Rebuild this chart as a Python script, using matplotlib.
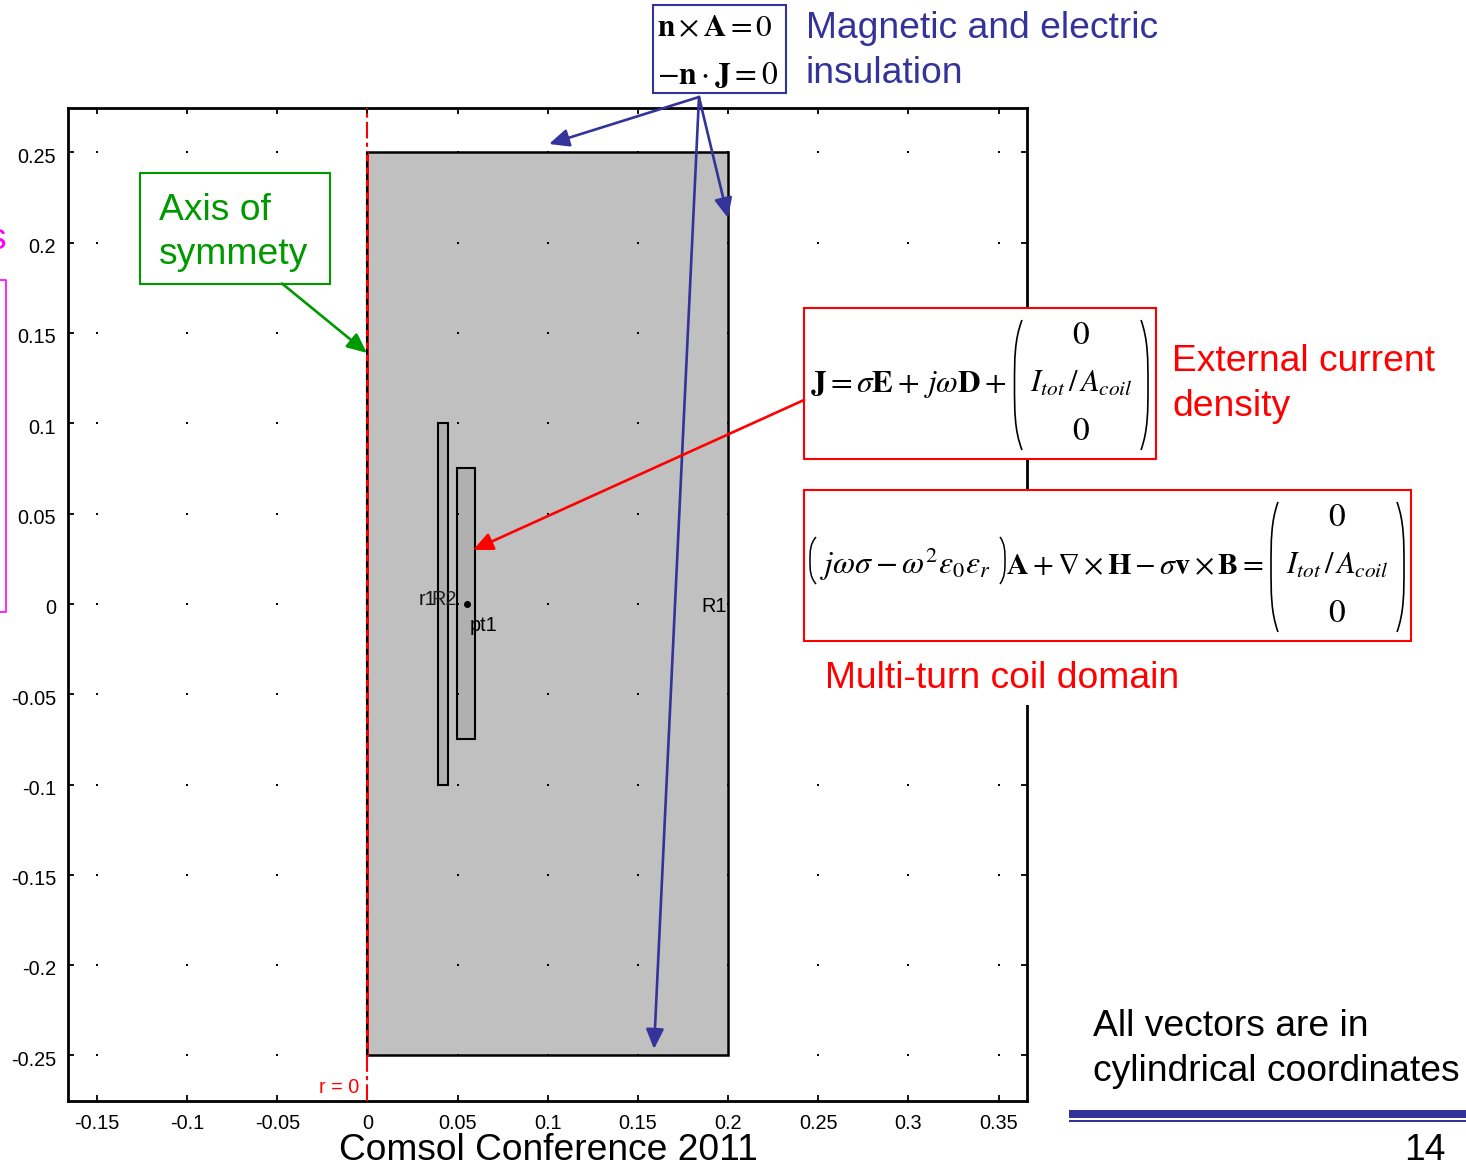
import matplotlib
matplotlib.use("Agg")
import numpy as np
import matplotlib.pyplot as plt
from matplotlib.patches import Rectangle, FancyArrowPatch, PathPatch
from matplotlib.path import Path
from matplotlib.transforms import ScaledTranslation

plt.rcParams["font.family"] = ["Liberation Sans", "DejaVu Sans"]
plt.rcParams["mathtext.fontset"] = "stix"

W, H = 1466, 1161
BLUE = "#333399"
RED = "#ff0000"
GREEN = "#009900"
MAGENTA = "#ff00ff"

x_ticks = [-0.15, -0.1, -0.05, 0, 0.05, 0.1, 0.15, 0.2, 0.25, 0.3, 0.35]
x_labels = ["-0.15", "-0.1", "-0.05", "0", "0.05", "0.1", "0.15", "0.2", "0.25", "0.3", "0.35"]
y_ticks = [-0.25, -0.2, -0.15, -0.1, -0.05, 0, 0.05, 0.1, 0.15, 0.2, 0.25]
y_labels = ["-0.25", "-0.2", "-0.15", "-0.1", "-0.05", "0", "0.05", "0.1", "0.15", "0.2", "0.25"]

# geometry objects: r_min, r_max, z_min, z_max
domain_r1 = [0, 0.2, -0.25, 0.25]
coil_r1 = [0.039, 0.0447, -0.1, 0.1]
coil_r2 = [0.0495, 0.0595, -0.075, 0.075]
point_pt1 = [0.055, 0]

fig = plt.figure(figsize=(W / 100, H / 100), dpi=100, facecolor="white")

# COMSOL plot
ax = fig.add_axes([68 / W, 1 - 1101 / H, (1027 - 68) / W, (1101 - 108) / H])
ax.set_xlim(-0.1661, 0.3658)
ax.set_ylim(-0.2752, 0.2746)
ax.set_xticks(x_ticks, x_labels)
ax.set_yticks(y_ticks, y_labels)
ax.tick_params(direction="in", top=True, right=True, length=4, width=1.3,
               labelsize=14.3, color="black")
ax.tick_params(axis="x", pad=9.5)
ax.tick_params(axis="y", pad=8.5)
for sp in ax.spines.values():
    sp.set_linewidth(2)
shift_down = ScaledTranslation(0, -2 / 72, fig.dpi_scale_trans)
for lab in ax.get_yticklabels():
    lab.set_transform(lab.get_transform() + shift_down)


def add_rect(bounds, color, lw, z):
    r0, r1, z0, z1 = bounds
    ax.add_patch(Rectangle((r0, z0), r1 - r0, z1 - z0, facecolor=color,
                           edgecolor="black", linewidth=lw, zorder=z))


# grid dots sit under the outlines of the geometry
gx, gy = np.meshgrid(x_ticks, y_ticks)
add_rect(domain_r1, "none", 1.8, 3.5)
ax.add_patch(Rectangle((domain_r1[0], domain_r1[2]), domain_r1[1], domain_r1[3] - domain_r1[2],
                       facecolor="#c0c0c0", edgecolor="none", zorder=1))
add_rect(coil_r1, "#b0b0b0", 1.5, 2)
add_rect(coil_r2, "#b0b0b0", 1.5, 2)
ax.scatter(gx.ravel(), gy.ravel(), s=3, c="black", marker="s", linewidths=0, zorder=3)
ax.plot(point_pt1[0], point_pt1[1], "o", color="black", ms=4, zorder=4)

ax.plot([0, 0], [-0.2752, 0.2746], color=RED, lw=1.5, ls=(0, (8, 2, 2, 2)), zorder=3.6)
ax.plot([0, 0], [-0.25, 0.25], color=RED, lw=2, zorder=3.6)
ax.plot([0, 0], [-0.25, 0.25], color="black", lw=1.5, ls=(0, (3, 3)), zorder=3.6)

ax.text(-0.0045, -0.2705, "r = 0", color=RED, fontsize=14.3, ha="right", va="baseline")
ax.text(0.1995, -0.0045, "R1", fontsize=14.3, ha="right", va="baseline", zorder=5)
ax.text(0.038, -0.0005, "r1", fontsize=14.3, ha="right", va="baseline", zorder=5, color="#111111")
ax.text(0.0495, -0.0005, "R2", fontsize=14.3, ha="right", va="baseline", zorder=5, color="#222222")
ax.text(0.0565, -0.0148, "pt1", fontsize=14.3, ha="left", va="baseline", zorder=5)

# slide annotations, drawn in pixel coordinates on top of the plot
ov = fig.add_axes([0, 0, 1, 1], facecolor="none")
ov.set_xlim(0, W)
ov.set_ylim(H, 0)
ov.axis("off")


def box(x0, y0, x1, y1, color, lw=1.5, z=3):
    ov.add_patch(Rectangle((x0, y0), x1 - x0, y1 - y0, facecolor="white",
                           edgecolor=color, linewidth=lw, zorder=z))


def arrow(p0, p1, color, z=6):
    ov.add_patch(FancyArrowPatch(p0, p1, arrowstyle="-|>,head_length=0.6,head_width=0.27",
                                 mutation_scale=20, shrinkA=0, shrinkB=0, color=color,
                                 linewidth=1.9, zorder=z))


def label(x, y, s, color="black", size=26.85):
    ov.text(x, y, s, color=color, fontsize=size, ha="left", va="baseline", zorder=7)


def paren(x_tip, x_mid, y0, y1, lw=1.2):
    h = y1 - y0
    ym = (y0 + y1) / 2
    verts = [(x_tip, y0), (x_mid, y0 + 0.15 * h), (x_mid, y0 + 0.3 * h), (x_mid, ym),
             (x_mid, y1 - 0.3 * h), (x_mid, y1 - 0.15 * h), (x_tip, y1)]
    codes = [Path.MOVETO, Path.CURVE4, Path.CURVE4, Path.CURVE4,
             Path.CURVE4, Path.CURVE4, Path.CURVE4]
    ov.add_patch(PathPatch(Path(verts, codes), facecolor="none", edgecolor="black",
                           linewidth=lw, zorder=7))


def vector(x_left, x_zero, y_mid):
    label(x_zero - 9, y_mid - 48, "$0$", size=24)
    label(x_left, y_mid, r"$I_{tot}\,/\,A_{coil}$", size=22)
    label(x_zero - 9, y_mid + 48, "$0$", size=24)


# white space behind the coil domain caption breaks the right spine and grid
ov.add_patch(Rectangle((806, 641), 384, 64, facecolor="white", edgecolor="none", zorder=2))

box(653, 5, 786, 93, BLUE)
box(140, 172.5, 329.5, 283.5, GREEN)
box(804, 308, 1156, 459, RED)
box(804, 489.5, 1411, 641, RED)

arrow((699, 97), (549, 144), BLUE)
arrow((699, 97), (728, 218), BLUE)
arrow((699, 97), (654, 1049), BLUE)
arrow((282, 283.5), (367, 353), GREEN)
arrow((804, 400), (473, 550), RED)

label(806, 38, "Magnetic and electric", BLUE)
label(806, 83, "insulation", BLUE)
label(159, 220, "Axis of", GREEN)
label(159, 264, "symmety", GREEN)
label(1172, 371, "External current", RED)
label(1172, 416, "density", RED)
label(825, 688, "Multi-turn coil domain", RED)
label(1093, 1036, "All vectors are in")
label(1093, 1081, "cylindrical coordinates")
label(339, 1160, "Comsol Conference 2011", size=26.7)
label(1404, 1160, "14", size=26.75)

label(657, 36, r"$\mathbf{n}\times\mathbf{A}=0$", size=22.4)
label(657, 84, r"$-\mathbf{n}\cdot\mathbf{J}=0$", size=22.8)

label(810, 392, r"$\mathbf{J}=\sigma\mathbf{E}+\,j\omega\mathbf{D}+$", size=22.6)
paren(1022, 1014.5, 320, 450)
paren(1141, 1148, 320, 450)
vector(1030, 1081, 392)

label(820, 574, r"$j\omega\sigma-\omega^{2}\varepsilon_{0}\varepsilon_{r}$", size=23)
paren(816, 810, 537, 584, lw=1.1)
paren(1000, 1005, 537, 584, lw=1.1)
label(1006, 574, r"$\mathbf{A}+\nabla\times\mathbf{H}-\sigma\mathbf{v}\times\mathbf{B}=$", size=21.7)
paren(1278, 1271, 502, 632)
paren(1397, 1404, 502, 632)
vector(1286, 1337, 574)

# bar under the note
ov.add_patch(Rectangle((1069, 1110), W - 1069, 7.5, facecolor=BLUE, edgecolor="none"))
ov.add_patch(Rectangle((1069, 1120), W - 1069, 2, facecolor=BLUE, edgecolor="none"))

# pieces of a box that runs off the left edge
ov.plot([0, 6, 6, 0], [279.5, 279.5, 611.5, 611.5], color=MAGENTA, lw=1.2)
label(-12, 249, "s", MAGENTA)

fig.savefig("out.png", dpi=100)
